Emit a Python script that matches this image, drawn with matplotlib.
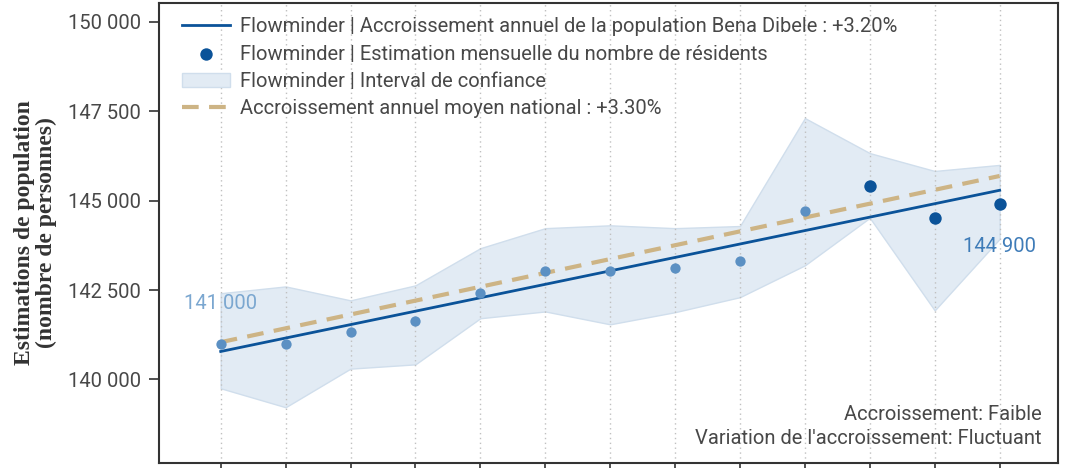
import matplotlib.pyplot as plt
import numpy as np

# data (13 months)
months = np.arange(13)
estimates = [141000, 141000, 141320, 141620, 142410, 143020, 143020,
             143110, 143300, 144700, 145400, 144510, 144900]
ci_low = [139750, 139220, 140300, 140420, 141710, 141900, 141540,
          141880, 142300, 143190, 144520, 141930, 143930]
ci_high = [142410, 142600, 142210, 142630, 143670, 144230, 144310,
           144230, 144290, 147310, 146330, 145830, 146000]
# trend lines: value at first and last month
local_trend = [140780, 145290]
national_trend = [141040, 145690]
# last three months are drawn darker
recent = [False] * 10 + [True] * 3

light_blue = "#5b90c3"
dark_blue = "#0b5399"
tan = "#cdb485"
txt = "#484848"

plt.rcParams["font.family"] = ["Roboto", "DejaVu Sans"]

fig = plt.figure(figsize=(10.71, 4.68), dpi=100)
ax = fig.add_axes([0.1485, 0.0107, 0.8394, 0.9829])

ax.fill_between(months, ci_low, ci_high, color="#e2ebf4", edgecolor="#d0deec",
                lw=1, label="Flowminder | Interval de confiance", zorder=1)
ax.plot([months[0], months[-1]], local_trend, color=dark_blue, lw=2,
        label="Flowminder | Accroissement annuel de la population Bena Dibele : +3.20%",
        zorder=3)
ax.plot([months[0], months[-1]], national_trend, color=tan, lw=3, ls=(0, (4, 2.5)),
        label="Accroissement annuel moyen national : +3.30%", zorder=3)

est = np.array(estimates)
rec = np.array(recent)
ax.scatter(months[~rec], est[~rec], s=55, color=light_blue, zorder=4, lw=0)
ax.scatter(months[rec], est[rec], s=80, color=dark_blue, zorder=4, lw=0,
           label="Flowminder | Estimation mensuelle du nombre de résidents")

ax.text(months[0], estimates[0] + 1120, "141 000", color="#7ba7d0",
        ha="center", va="center", fontsize=14.5)
ax.text(months[-1], estimates[-1] - 1170, "144 900", color="#3f7cb8",
        ha="center", va="center", fontsize=14.5)

ax.text(0.982, 0.085, "Accroissement: Faible", transform=ax.transAxes,
        ha="right", va="bottom", fontsize=14.5, color=txt)
ax.text(0.982, 0.032, "Variation de l'accroissement: Fluctuant", transform=ax.transAxes,
        ha="right", va="bottom", fontsize=14.5, color=txt)

ax.set_xlim(-0.95, 12.9)
ax.set_ylim(137660, 150530)
ax.set_xticks(months)
ax.set_xticklabels([])
yt = np.arange(140000, 150001, 2500)
ax.set_yticks(yt)
ax.set_yticklabels([f"{v:,}".replace(",", " ") for v in yt], fontsize=14.5,
                   color=txt)
ax.tick_params(axis="y", length=7, width=1.2, color="#333333", pad=6)
ax.tick_params(axis="x", length=7, width=1.2, color="#333333")
ax.grid(axis="x", color="#c0c0c0", ls=(0, (1, 2.5)), lw=1)
for s in ax.spines.values():
    s.set_color("#333333")
    s.set_linewidth(1.5)

ax.set_ylabel("Estimations de population\n(nombre de personnes)",
              family="Liberation Serif", fontweight="bold", fontsize=17,
              color="#333333", labelpad=8, linespacing=1.05)

h, l = ax.get_legend_handles_labels()
order = [1, 3, 0, 2]
leg = ax.legend([h[i] for i in order], [l[i] for i in order], loc="upper left",
                frameon=False, fontsize=14.5, handlelength=2.4,
                handletextpad=0.45, bbox_to_anchor=(0.01, 1.0),
                labelspacing=0.42, borderaxespad=0.3)
for t in leg.get_texts():
    t.set_color(txt)

fig.savefig("out.png", dpi=100)
